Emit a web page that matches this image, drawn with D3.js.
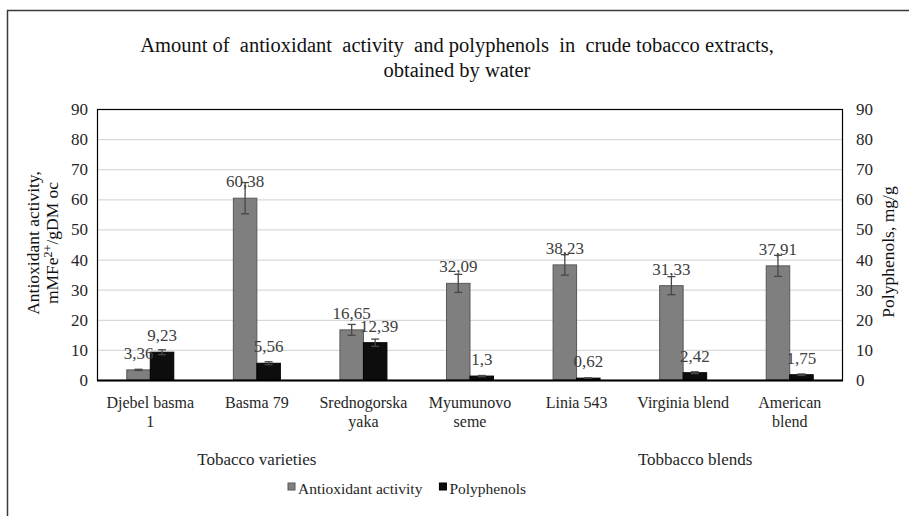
<!DOCTYPE html>
<html>
<head>
<meta charset="utf-8">
<script src="https://cdn.jsdelivr.net/npm/d3@7"></script>
<style>
  body { margin: 0; background: #fff; }
  text { font-family: "Liberation Serif", "Times New Roman", serif; }
</style>
</head>
<body>
<svg width="909" height="516"></svg>
<script>
// data
var categories = ["Djebel basma 1", "Basma 79", "Srednogorska yaka", "Myumunovo seme", "Linia 543", "Virginia blend", "American blend"];
var catLines = [["Djebel basma", "1"], ["Basma 79"], ["Srednogorska", "yaka"], ["Myumunovo", "seme"], ["Linia 543"], ["Virginia blend"], ["American", "blend"]];
var antioxidant = [3.36, 60.38, 16.65, 32.09, 38.23, 31.33, 37.91];
var antioxidantErr = [0.2, 5.2, 1.8, 3.0, 3.4, 3.0, 3.5];
var polyphenols = [9.23, 5.56, 12.39, 1.3, 0.62, 2.42, 1.75];
var polyphenolsErr = [0.8, 0.5, 1.2, 0.2, 0.1, 0.3, 0.25];
var labelsA = ["3,36", "60,38", "16,65", "32,09", "38,23", "31,33", "37,91"];
var labelsP = ["9,23", "5,56", "12,39", "1,3", "0,62", "2,42", "1,75"];
var yTicks = [0, 10, 20, 30, 40, 50, 60, 70, 80, 90];
var groups = [{name: "Tobacco varieties", from: 0, to: 2, shift: 0}, {name: "Tobbacco blends", from: 4, to: 6, shift: 12}];

var svg = d3.select("svg"),
    width = +svg.attr("width"),
    height = +svg.attr("height");

var m = {left: 97, right: 843, top: 109, bottom: 380};

svg.append("rect").attr("width", width).attr("height", height).attr("fill", "#fff");
// outer chart border (right and bottom run off the picture)
svg.append("rect")
    .attr("x", 7.5).attr("y", 10.5).attr("width", 1000).attr("height", 1000)
    .attr("fill", "none").attr("stroke", "#3a3a3a").attr("stroke-width", 1.5);

var x = d3.scaleBand().domain(categories).range([m.left, m.right]);
var series = ["a", "p"];
var x1 = d3.scaleBand().domain(series).range([0, 47]);
var yL = d3.scaleLinear().domain([0, 90]).range([m.bottom, m.top]);
var yR = d3.scaleLinear().domain([0, 90]).range([m.bottom, m.top]);

// gridlines
svg.append("g").selectAll("line").data(yTicks.slice(1)).enter().append("line")
    .attr("x1", m.left).attr("x2", m.right)
    .attr("y1", function(d) { return yL(d) + 0.5; }).attr("y2", function(d) { return yL(d) + 0.5; })
    .attr("stroke", "#d9d9d9").attr("stroke-width", 1.2);

// axes (text only, Excel style)
var gl = svg.append("g").attr("transform", "translate(" + m.left + ",0)")
    .call(d3.axisLeft(yL).tickValues(yTicks).tickSize(0).tickPadding(9));
var gr = svg.append("g").attr("transform", "translate(" + m.right + ",0)")
    .call(d3.axisRight(yR).tickValues(yTicks).tickSize(0).tickPadding(13));
[gl, gr].forEach(function(g) {
  g.attr("font-family", null);
  g.select(".domain").remove();
  g.selectAll("text").attr("font-size", 17).attr("fill", "#262626");
});

function off() { return (x.bandwidth() - 47) / 2; }

var bars = svg.append("g");
categories.forEach(function(c, i) {
  var bx = x(c) + off();
  bars.append("rect")
      .attr("x", bx + x1("a")).attr("width", x1.bandwidth())
      .attr("y", yL(antioxidant[i])).attr("height", yL(0) - yL(antioxidant[i]))
      .attr("fill", "#7f7f7f").attr("stroke", "#595959").attr("stroke-width", 1);
  bars.append("rect")
      .attr("x", bx + x1("p")).attr("width", x1.bandwidth())
      .attr("y", yR(polyphenols[i])).attr("height", yR(0) - yR(polyphenols[i]))
      .attr("fill", "#0d0d0d").attr("stroke", "#000").attr("stroke-width", 1);
});

// error bars
function errBar(cx, y, v, e) {
  var g = svg.append("g").attr("stroke", "#474747").attr("stroke-width", 1.3);
  g.append("line").attr("x1", cx).attr("x2", cx).attr("y1", y(v - e)).attr("y2", y(v + e));
  g.append("line").attr("x1", cx - 4).attr("x2", cx + 4).attr("y1", y(v - e)).attr("y2", y(v - e));
  g.append("line").attr("x1", cx - 4).attr("x2", cx + 4).attr("y1", y(v + e)).attr("y2", y(v + e));
}
categories.forEach(function(c, i) {
  var bx = x(c) + off();
  errBar(bx + x1("a") + x1.bandwidth() / 2, yL, antioxidant[i], antioxidantErr[i]);
  errBar(bx + x1("p") + x1.bandwidth() / 2, yR, polyphenols[i], polyphenolsErr[i]);
});

// data labels
categories.forEach(function(c, i) {
  var bx = x(c) + off();
  svg.append("text").attr("x", bx + x1("a") + x1.bandwidth() / 2).attr("y", yL(antioxidant[i]) - 11)
      .attr("text-anchor", "middle").attr("font-size", 17).attr("fill", "#404040").text(labelsA[i]);
  svg.append("text").attr("x", bx + x1("p") + x1.bandwidth() / 2 + (i === 2 ? 4 : 0)).attr("y", yR(polyphenols[i]) - 11)
      .attr("text-anchor", "middle").attr("font-size", 17).attr("fill", "#404040").text(labelsP[i]);
});

// plot frame and baseline
svg.append("rect").attr("x", m.left + 0.5).attr("y", m.top + 0.5)
    .attr("width", m.right - m.left - 1).attr("height", m.bottom - m.top)
    .attr("fill", "none").attr("stroke", "#000").attr("stroke-width", 1.2);
svg.append("line").attr("x1", m.left).attr("x2", m.right)
    .attr("y1", m.bottom + 0.5).attr("y2", m.bottom + 0.5)
    .attr("stroke", "#000").attr("stroke-width", 2);

// category labels
categories.forEach(function(c, i) {
  var t = svg.append("text").attr("x", x(c) + x.bandwidth() / 2).attr("y", 408)
      .attr("text-anchor", "middle").attr("font-size", 16).attr("fill", "#262626");
  catLines[i].forEach(function(s, k) {
    t.append("tspan").attr("x", x(c) + x.bandwidth() / 2).attr("dy", k ? 19 : 0).text(s);
  });
});

// group labels
groups.forEach(function(g) {
  var cx = (x(categories[g.from]) + x(categories[g.to]) + x.bandwidth()) / 2 + g.shift;
  svg.append("text").attr("x", cx).attr("y", 465).attr("text-anchor", "middle")
      .attr("font-size", 17).attr("fill", "#262626").text(g.name);
});

// title
var title = svg.append("text").attr("x", 457).attr("y", 52).attr("text-anchor", "middle")
    .attr("font-size", 20.5).attr("fill", "#111");
title.append("tspan").attr("x", 457).attr("dy", 0).attr("xml:space", "preserve")
    .text("Amount of  antioxidant  activity  and polyphenols  in  crude tobacco extracts,");
title.append("tspan").attr("x", 457).attr("dy", 25).text("obtained  by water");

// y axis titles
var lt = svg.append("text").attr("transform", "translate(39,243) rotate(-90)")
    .attr("text-anchor", "middle").attr("font-size", 17.5).attr("fill", "#111");
lt.append("tspan").attr("x", 0).attr("dy", 0).text("Antioxidant activity,");
var l2 = lt.append("tspan").attr("x", 0).attr("dy", 19).text("mMFe");
l2.append("tspan").attr("font-size", 12).attr("dy", -6).text("2+");
l2.append("tspan").attr("dy", 6).text("/gDM oc");

svg.append("text").attr("transform", "translate(894,252) rotate(-90)")
    .attr("text-anchor", "middle").attr("font-size", 17.5).attr("fill", "#111")
    .text("Polyphenols, mg/g");

// legend
var legend = [{name: "Antioxidant activity", color: "#7f7f7f", stroke: "#595959"},
              {name: "Polyphenols", color: "#0d0d0d", stroke: "#000"}];
var lx = 288;
legend.forEach(function(l, i) {
  var g = svg.append("g").attr("transform", "translate(" + lx + ",494)");
  g.append("rect").attr("x", 0).attr("y", -11).attr("width", 7).attr("height", 7)
      .attr("fill", l.color).attr("stroke", l.stroke);
  var t = g.append("text").attr("x", 10).attr("y", 0).attr("font-size", 15.5)
      .attr("fill", "#262626").text(l.name);
  lx += 10 + t.node().getComputedTextLength() + 17;
});
</script>
</body>
</html>
